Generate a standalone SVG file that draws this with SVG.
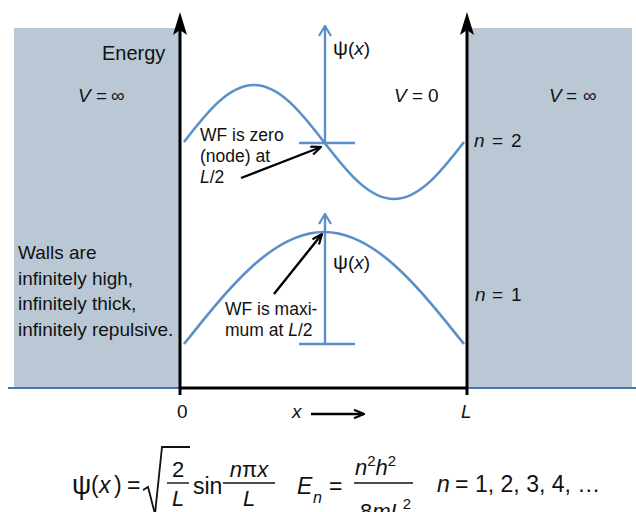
<svg xmlns="http://www.w3.org/2000/svg" width="636" height="512" viewBox="0 0 636 512">
<defs>
<style>
.t{font-family:"Liberation Sans",Arial,sans-serif;fill:#111}
.lbl{font-size:19px}
.ann{font-size:17.5px}
.fm{font-size:23px}
.it{font-style:italic}
.wave{fill:none;stroke:#5b8fc9;stroke-width:2.6}
.bax{fill:none;stroke:#5b8fc9;stroke-width:2.4}
.kax{fill:none;stroke:#000;stroke-width:3}
.arr{fill:none;stroke:#000;stroke-width:2.4}
.bar{stroke:#111;stroke-width:1.4}
</style>
<marker id="openK" viewBox="0 0 12 10" refX="11" refY="5" markerWidth="12" markerHeight="10" markerUnits="userSpaceOnUse" orient="auto">
<path d="M1,0.8 L11,5 L1,9.2" fill="none" stroke="#000" stroke-width="2.2"/>
</marker>
<marker id="openB" viewBox="0 0 12 14" refX="11" refY="7" markerWidth="12" markerHeight="14" markerUnits="userSpaceOnUse" orient="auto">
<path d="M1,1 L11,7 L1,13" fill="none" stroke="#5b8fc9" stroke-width="2.2"/>
</marker>
</defs>
<rect width="636" height="512" fill="#fff"/>

<g id="wall-left">
<rect x="14" y="28" width="166" height="360" fill="#bac8d5"/>
<text class="t lbl" x="18" y="259">Walls are</text>
<text class="t lbl" x="18" y="285">infinitely high,</text>
<text class="t lbl" x="18" y="310">infinitely thick,</text>
<text class="t lbl" x="18" y="336">infinitely repulsive.</text>
<text class="t lbl"><tspan class="it" x="78" y="102">V</tspan><tspan x="96" y="102">=</tspan><tspan x="111" y="102">∞</tspan></text>
</g>
<g id="wall-right">
<rect x="467" y="28" width="165" height="360" fill="#bac8d5"/>
<text class="t lbl"><tspan class="it" x="549" y="102">V</tspan><tspan x="566" y="102">=</tspan><tspan x="583" y="102">∞</tspan></text>
</g>

<g id="connectors">
<line x1="8" y1="388" x2="180" y2="388" stroke="#4a76ad" stroke-width="2.2"/>
<line x1="467" y1="388" x2="636" y2="388" stroke="#4a76ad" stroke-width="2.2"/>
<line class="kax" x1="180" y1="388" x2="467" y2="388"/>
<line class="kax" x1="180" y1="395" x2="180" y2="28"/>
<path d="M180,12 L187,35 L180,30 L173,35 Z" fill="#000"/>
<line class="kax" x1="467" y1="395" x2="467" y2="28"/>
<path d="M467,12 L474,35 L467,30 L460,35 Z" fill="#000"/>
<line class="bax" x1="325" y1="143" x2="325" y2="26" marker-end="url(#openB)"/>
<line class="bax" x1="299" y1="143" x2="355" y2="143"/>
<line class="bax" x1="325" y1="344" x2="325" y2="214" marker-end="url(#openB)"/>
<line class="bax" x1="299" y1="344" x2="355" y2="344"/>
<line class="arr" x1="241" y1="178" x2="321" y2="147" marker-end="url(#openK)"/>
<line class="arr" x1="274" y1="294" x2="322" y2="234" marker-end="url(#openK)"/>
<line class="arr" x1="311" y1="414" x2="364" y2="414" marker-end="url(#openK)"/>
</g>

<g id="wave-n2">
<path class="wave" d="M184,142 C206.8,112.3 228.7,85 254,85 S301.2,112.3 324,142 S368.7,199 394,199 S441.2,171.7 464,142"/>
<text class="t lbl" x="333" y="55"><tspan font-size="21">ψ</tspan>(<tspan class="it">x</tspan>)</text>
<text class="t lbl"><tspan class="it" x="474" y="147">n</tspan><tspan x="492" y="147">=</tspan><tspan x="511" y="147">2</tspan></text>
</g>
<g id="wave-n1">
<path class="wave" d="M184,344 C229.7,286.6 273.3,232 324,232 S418.3,286.6 464,344"/>
<text class="t lbl" x="333" y="269"><tspan font-size="21">ψ</tspan>(<tspan class="it">x</tspan>)</text>
<text class="t lbl"><tspan class="it" x="475" y="301">n</tspan><tspan x="492" y="301">=</tspan><tspan x="511" y="301">1</tspan></text>
</g>

<g id="labels">
<text class="t" x="102" y="60" font-size="20">Energy</text>
<text class="t lbl"><tspan class="it" x="394" y="102">V</tspan><tspan x="412" y="102">=</tspan><tspan x="428" y="102">0</tspan></text>
<text class="t ann" x="200" y="141">WF is zero</text>
<text class="t ann" x="200" y="162">(node) at</text>
<text class="t ann" x="200" y="183"><tspan class="it">L</tspan>/2</text>
<text class="t ann" x="225" y="315">WF is maxi-</text>
<text class="t ann" x="225" y="336">mum at <tspan class="it">L</tspan>/2</text>
<text class="t lbl" x="177" y="418">0</text>
<text class="t lbl it" x="292" y="418">x</text>
<text class="t lbl it" x="461" y="418">L</text>
</g>

<g id="formula">
<text class="t fm"><tspan x="72" y="494" font-size="27">ψ</tspan><tspan x="91" y="493">(</tspan><tspan class="it" x="99" y="493">x</tspan><tspan x="114" y="493">)</tspan></text>
<text class="t fm" x="127" y="493">=</text>
<path d="M143,490 L148,487 L155,514 L162,447 L190,447" fill="none" stroke="#111" stroke-width="1.8"/>
<text class="t" font-size="22" x="178" y="477" text-anchor="middle">2</text>
<line class="bar" x1="167" y1="483" x2="189" y2="483"/>
<text class="t it" font-size="22" x="178" y="506" text-anchor="middle">L</text>
<text class="t fm" x="193" y="494">sin</text>
<text class="t it" font-size="22" x="249" y="477" text-anchor="middle">n<tspan font-style="normal">π</tspan>x</text>
<line class="bar" x1="223" y1="483" x2="275" y2="483"/>
<text class="t it" font-size="22" x="249" y="506" text-anchor="middle">L</text>
<text class="t fm it" x="297" y="494">E</text>
<text class="t it" font-size="16" x="313" y="503">n</text>
<text class="t fm" x="329" y="494">=</text>
<text class="t it" font-size="22" x="355" y="475">n<tspan font-style="normal" font-size="15" dy="-9">2</tspan><tspan dy="9">h</tspan><tspan font-style="normal" font-size="15" dy="-9">2</tspan></text>
<line class="bar" x1="354" y1="483" x2="413" y2="483"/>
<text class="t" font-size="22" x="360" y="519">8<tspan class="it">mL</tspan><tspan font-size="15" dy="-10">2</tspan></text>
<text class="t fm"><tspan class="it" x="437" y="492">n</tspan><tspan x="455" y="492">=</tspan><tspan x="475" y="492">1, 2, 3, 4, …</tspan></text>
</g>
</svg>
